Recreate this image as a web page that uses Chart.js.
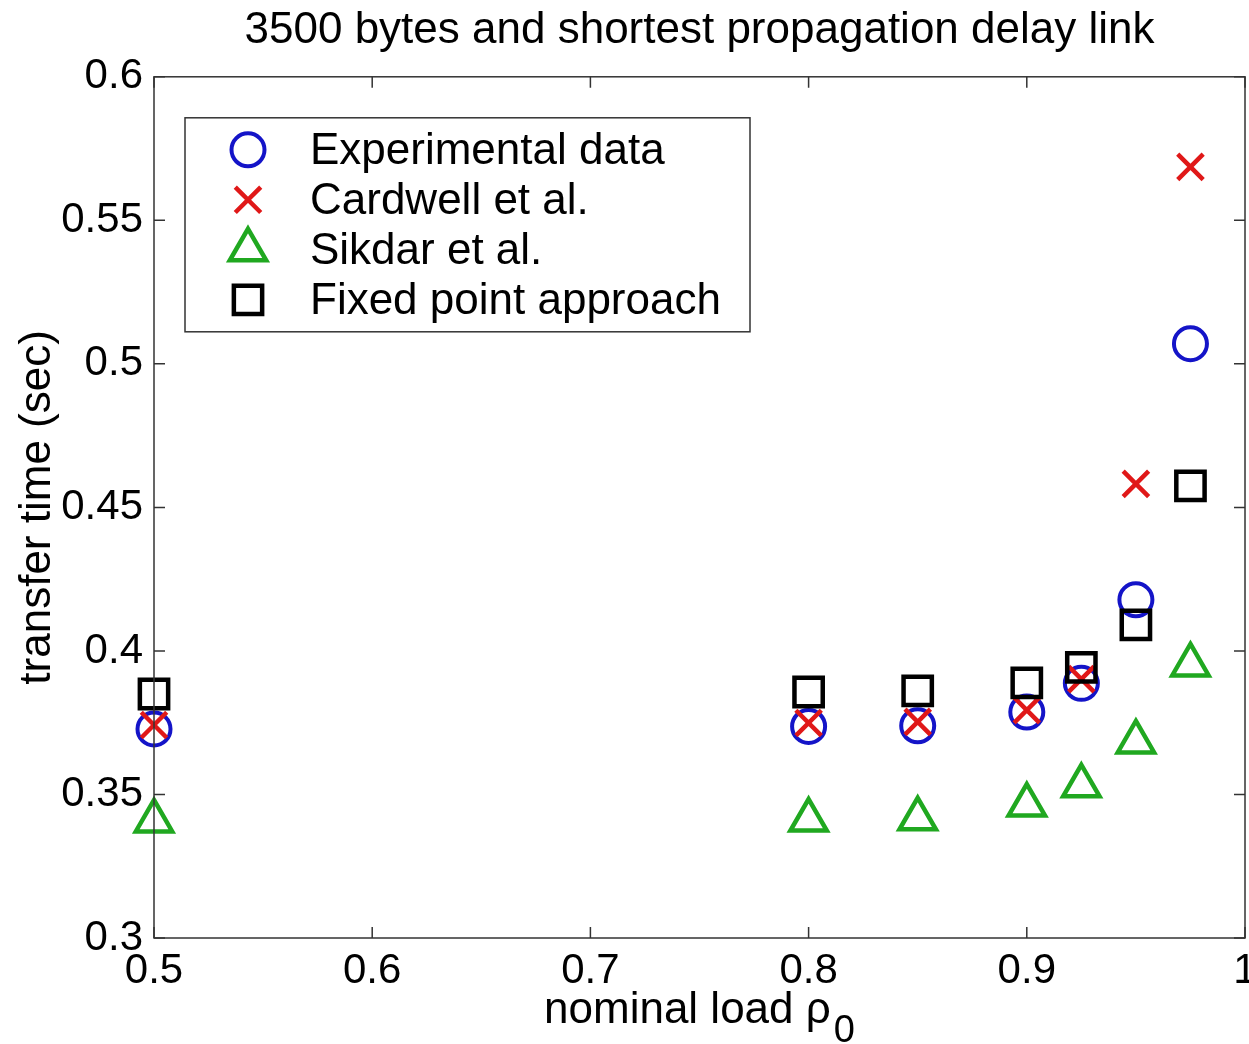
<!DOCTYPE html>
<html>
<head>
<meta charset="utf-8">
<title>3500 bytes and shortest propagation delay link</title>
<script src="https://cdn.jsdelivr.net/npm/chart.js@4.4.0/dist/chart.umd.min.js"></script>
<style>
  html, body { margin: 0; padding: 0; background: #fff; }
  #chart { display: block; }
</style>
</head>
<body>
<canvas id="chart" width="1249" height="1044"></canvas>
<script>
// values
const loads = [0.5, 0.8, 0.85, 0.9, 0.925, 0.95, 0.975];
const experimental = [0.3728, 0.3737, 0.3739, 0.3787, 0.3887, 0.4178, 0.5070];
const cardwell = [0.3742, 0.3749, 0.3753, 0.3794, 0.3902, 0.4582, 0.5686];
const sikdar = [0.3408, 0.3411, 0.3415, 0.3463, 0.3530, 0.3683, 0.3951];
const fixedPoint = [0.3850, 0.3857, 0.3861, 0.3889, 0.3943, 0.4091, 0.4575];

const xTicks = [0.5, 0.6, 0.7, 0.8, 0.9, 1];
const yTicks = [0.3, 0.35, 0.4, 0.45, 0.5, 0.55, 0.6];
const seriesNames = ['Experimental data', 'Cardwell et al.', 'Sikdar et al.', 'Fixed point approach'];

const FONT = '"Liberation Sans", Arial, Helvetica, sans-serif';

function points(ys) {
    return loads.map((x, i) => ({ x: x, y: ys[i] }));
}

// matlab style box with inward ticks on all four sides
const boxAndTicks = {
    id: 'boxAndTicks',
    afterDatasetsDraw(chart) {
        const { ctx, chartArea: a, scales } = chart;
        const len = 11;
        ctx.save();
        ctx.strokeStyle = '#333';
        ctx.lineWidth = 1.5;
        ctx.beginPath();
        scales.x.ticks.forEach(t => {
            const px = scales.x.getPixelForValue(t.value);
            ctx.moveTo(px, a.bottom); ctx.lineTo(px, a.bottom - len);
            ctx.moveTo(px, a.top); ctx.lineTo(px, a.top + len);
        });
        scales.y.ticks.forEach(t => {
            const py = scales.y.getPixelForValue(t.value);
            ctx.moveTo(a.left, py); ctx.lineTo(a.left + len, py);
            ctx.moveTo(a.right, py); ctx.lineTo(a.right - len, py);
        });
        ctx.stroke();
        ctx.strokeRect(a.left, a.top, a.right - a.left, a.bottom - a.top);
        ctx.restore();
    }
};

// boxed legend inside the axes, top left
const boxedLegend = {
    id: 'boxedLegend',
    afterDraw(chart) {
        const { ctx, chartArea: a } = chart;
        const left = a.left + 31, top = a.top + 41, w = 565, h = 214;
        ctx.save();
        ctx.fillStyle = '#fff';
        ctx.fillRect(left, top, w, h);
        ctx.strokeStyle = '#333';
        ctx.lineWidth = 1.5;
        ctx.strokeRect(left, top, w, h);

        chart.data.datasets.forEach((ds, i) => {
            const cy = top + 32 + i * 50;
            const cx = left + 63;
            ctx.strokeStyle = ds.borderColor;
            ctx.fillStyle = 'rgba(0,0,0,0)';
            ctx.lineWidth = ds.borderWidth;
            Chart.helpers.drawPoint(ctx, {
                pointStyle: ds.pointStyle,
                radius: ds.pointRadius,
                rotation: 0,
                borderWidth: ds.borderWidth
            }, cx, cy);
            ctx.fillStyle = '#000';
            ctx.font = '44px ' + FONT;
            ctx.textAlign = 'left';
            ctx.textBaseline = 'middle';
            ctx.fillText(ds.label, left + 125, cy + 2);
        });
        ctx.restore();
    }
};

// x label with a subscript, centred under the axes
const xLabel = {
    id: 'xLabel',
    afterDraw(chart) {
        const { ctx, chartArea: a } = chart;
        const main = 'nominal load \u03c1';
        const sub = '0';
        const gap = 3;
        ctx.save();
        ctx.fillStyle = '#000';
        ctx.textBaseline = 'alphabetic';
        ctx.textAlign = 'left';
        ctx.font = '44px ' + FONT;
        const wMain = ctx.measureText(main).width;
        ctx.font = '38px ' + FONT;
        const wSub = ctx.measureText(sub).width;
        const start = (a.left + a.right) / 2 - (wMain + gap + wSub) / 2;
        const base = chart.height - 21;
        ctx.font = '44px ' + FONT;
        ctx.fillText(main, start, base);
        ctx.font = '38px ' + FONT;
        ctx.fillText(sub, start + wMain + gap, base + 19);
        ctx.restore();
    }
};

Chart.defaults.color = '#000';
Chart.defaults.font.family = FONT;

const ctx = document.querySelector('#chart');

const graph = new Chart(ctx, {
    type: 'scatter',
    data: {
        datasets: [
            {
                label: seriesNames[0],
                data: points(experimental),
                pointStyle: 'circle',
                pointRadius: 16.5,
                borderWidth: 4,
                borderColor: '#1414c8',
                backgroundColor: 'rgba(0,0,0,0)',
                order: 4
            },
            {
                label: seriesNames[1],
                data: points(cardwell),
                pointStyle: 'crossRot',
                pointRadius: 18,
                borderWidth: 4.5,
                borderColor: '#e01818',
                backgroundColor: 'rgba(0,0,0,0)',
                order: 3
            },
            {
                label: seriesNames[2],
                data: points(sikdar),
                pointStyle: 'triangle',
                pointRadius: 21,
                borderWidth: 4.5,
                borderColor: '#20a820',
                backgroundColor: 'rgba(0,0,0,0)',
                order: 2
            },
            {
                label: seriesNames[3],
                data: points(fixedPoint),
                pointStyle: 'rect',
                pointRadius: 20,
                borderWidth: 4.5,
                borderColor: '#000000',
                backgroundColor: 'rgba(0,0,0,0)',
                order: 1
            }
        ]
    },
    options: {
        responsive: false,
        animation: false,
        events: [],
        clip: false,
        layout: {
            autoPadding: false,
            padding: { left: 0, right: 4, top: 0, bottom: 0 }
        },
        scales: {
            x: {
                type: 'linear',
                min: 0.5,
                max: 1,
                afterBuildTicks: (scale) => {
                    scale.ticks = xTicks.map(v => ({ value: v }));
                },
                afterFit: (scale) => {
                    scale.height = 106;
                    scale.paddingLeft = 0;
                    scale.paddingRight = 0;
                },
                grid: { display: false, drawTicks: false },
                border: { display: false },
                ticks: {
                    padding: 8,
                    maxRotation: 0,
                    autoSkip: false,
                    font: { size: 42 },
                    callback: (v) => String(v)
                },
                title: { display: false }
            },
            y: {
                type: 'linear',
                min: 0.3,
                max: 0.6,
                afterBuildTicks: (scale) => {
                    scale.ticks = yTicks.map(v => ({ value: v }));
                },
                afterFit: (scale) => {
                    scale.width = 154;
                },
                grid: { display: false, drawTicks: false },
                border: { display: false },
                ticks: {
                    padding: 11,
                    autoSkip: false,
                    font: { size: 42 },
                    callback: (v) => String(v)
                },
                title: {
                    display: true,
                    text: 'transfer time (sec)',
                    font: { size: 44 },
                    padding: { top: 11, bottom: 0 }
                }
            }
        },
        plugins: {
            legend: { display: false },
            tooltip: { enabled: false },
            title: {
                display: true,
                fullSize: false,
                text: '3500 bytes and shortest propagation delay link',
                font: { size: 44, weight: 'normal' },
                padding: { top: 4, bottom: 20 }
            }
        }
    },
    plugins: [boxAndTicks, boxedLegend, xLabel]
});
</script>
</body>
</html>
